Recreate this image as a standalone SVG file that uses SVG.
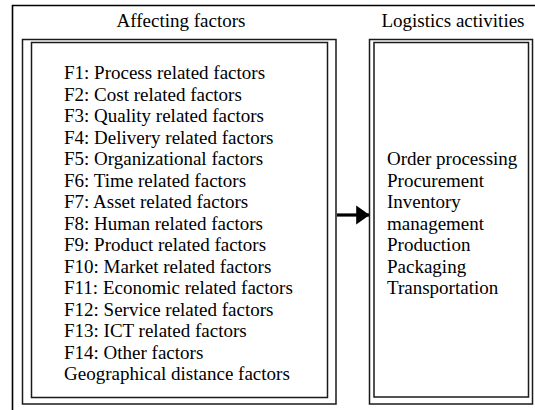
<svg xmlns="http://www.w3.org/2000/svg" width="535" height="410" viewBox="0 0 535 410">
  <style>
    .frame { fill: none; stroke: #000; stroke-width: 1.6; }
    .box { fill: none; stroke: #1a1a1a; stroke-width: 1.5; }
    .head { font-family: "Liberation Serif", "Times New Roman", serif; font-size: 19px; fill: #000; text-anchor: middle; }
    .item { font-family: "Liberation Serif", "Times New Roman", serif; font-size: 19px; fill: #000; }
  </style>
  <defs>
    <marker id="arrowhead" markerWidth="4.2" markerHeight="6" refX="4" refY="3" orient="auto" markerUnits="strokeWidth">
      <path d="M0,0 L4.2,3 L0,6 Z" fill="#000"/>
    </marker>
  </defs>
  <rect width="535" height="410" fill="#fff"/>

  <!-- enclosing frame, open on the right and bottom -->
  <path class="frame" d="M12.5,410 V5.5 H535"/>

  <g id="affecting-factors">
    <text class="head" x="181" y="26.5">Affecting factors</text>
    <rect class="box" x="22.5" y="39.5" width="313.5" height="364.5"/>
    <rect class="box" x="31.5" y="42.5" width="296" height="355"/>
    <text class="item" x="64">
      <tspan x="64" y="79">F1: Process related factors</tspan>
      <tspan x="64" y="100.5">F2: Cost related factors</tspan>
      <tspan x="64" y="122">F3: Quality related factors</tspan>
      <tspan x="64" y="143.5">F4: Delivery related factors</tspan>
      <tspan x="64" y="165">F5: Organizational factors</tspan>
      <tspan x="64" y="186.5">F6: Time related factors</tspan>
      <tspan x="64" y="208">F7: Asset related factors</tspan>
      <tspan x="64" y="229.5">F8: Human related factors</tspan>
      <tspan x="64" y="251">F9: Product related factors</tspan>
      <tspan x="64" y="272.5">F10: Market related factors</tspan>
      <tspan x="64" y="294">F11: Economic related factors</tspan>
      <tspan x="64" y="315.5">F12: Service related factors</tspan>
      <tspan x="64" y="337">F13: ICT related factors</tspan>
      <tspan x="64" y="358.5">F14: Other factors</tspan>
      <tspan x="64" y="380">Geographical distance factors</tspan>
    </text>
  </g>

  <g id="logistics-activities">
    <text class="head" x="453" y="26.5">Logistics activities</text>
    <rect class="box" x="369.5" y="39.5" width="163" height="364.5"/>
    <rect class="box" x="374" y="42.5" width="154.5" height="354.5"/>
    <text class="item" x="387">
      <tspan x="387" y="165">Order processing</tspan>
      <tspan x="387" y="186.5">Procurement</tspan>
      <tspan x="387" y="208">Inventory</tspan>
      <tspan x="387" y="229.5">management</tspan>
      <tspan x="387" y="251">Production</tspan>
      <tspan x="387" y="272.5">Packaging</tspan>
      <tspan x="387" y="294">Transportation</tspan>
    </text>
  </g>

  <g id="connectors">
    <line x1="337" y1="215" x2="369" y2="215" stroke="#000" stroke-width="3.2" marker-end="url(#arrowhead)"/>
  </g>
</svg>
